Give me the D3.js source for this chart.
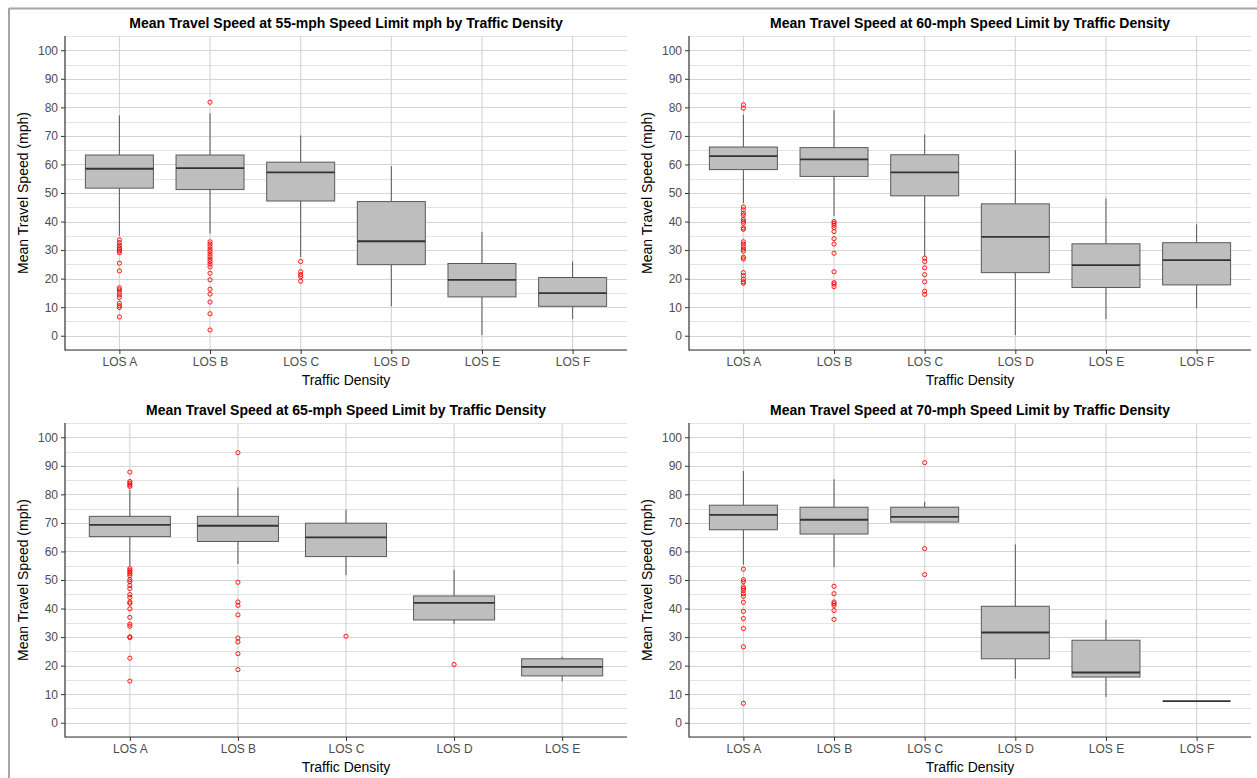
<!DOCTYPE html>
<html><head><meta charset="utf-8">
<script src="https://cdn.jsdelivr.net/npm/d3@7"></script>
<style>body{margin:0;background:#fff;} svg{display:block;font-family:"Liberation Sans",Arial,sans-serif;}</style>
</head><body>
<svg id="chart" width="1257" height="778"></svg>
<script>
// ---- Data ----
const titles = [
  "Mean Travel Speed at 55-mph Speed Limit mph by Traffic Density",
  "Mean Travel Speed at 60-mph Speed Limit by Traffic Density",
  "Mean Travel Speed at 65-mph Speed Limit by Traffic Density",
  "Mean Travel Speed at 70-mph Speed Limit by Traffic Density"
];
const categories6 = ["LOS A","LOS B","LOS C","LOS D","LOS E","LOS F"];
const categories5 = ["LOS A","LOS B","LOS C","LOS D","LOS E"];
const yTicks = [0,10,20,30,40,50,60,70,80,90,100];

// 55 mph
const p55_whiskerLow  = [35.0, 35.8, 27.5, 10.3, 0.2, 5.8];
const p55_q1          = [51.7, 51.2, 47.2, 24.9, 13.6, 10.3];
const p55_median      = [58.5, 58.7, 57.2, 33.1, 19.6, 14.9];
const p55_q3          = [63.3, 63.3, 60.8, 47.0, 25.3, 20.4];
const p55_whiskerHigh = [77.2, 77.9, 70.2, 59.4, 36.4, 26.0];
const p55_outliers = [
  [33.6,32.6,31.7,30.9,30.3,29.7,29.1,25.4,22.7,16.8,16.1,15.2,14.3,13.4,11.4,10.5,9.9,6.6],
  [81.8,32.9,32.1,31.2,30.3,29.5,28.6,27.7,26.8,26.0,25.1,24.1,21.9,19.6,16.3,14.6,11.8,7.7,2.0],
  [26.0,22.4,21.4,20.7,19.1],
  [], [], []
];
// 60 mph
const p60_whiskerLow  = [46.5, 42.0, 28.0, 0.2, 5.8, 9.6];
const p60_q1          = [58.2, 55.8, 49.0, 22.1, 16.9, 17.8];
const p60_median      = [62.9, 61.8, 57.2, 34.6, 24.7, 26.5];
const p60_q3          = [66.1, 65.9, 63.4, 46.2, 32.2, 32.6];
const p60_whiskerHigh = [77.5, 79.0, 70.5, 65.0, 48.1, 39.0];
const p60_outliers = [
  [80.9,79.7,45.1,44.1,42.9,42.2,40.8,40.1,39.4,37.8,37.3,32.9,32.1,31.2,30.3,29.6,27.5,26.9,22.1,21.0,19.8,18.9,18.4],
  [40.0,39.4,38.7,37.9,36.5,34.0,32.1,28.9,22.4,18.6,18.1,17.2],
  [27.2,26.0,23.8,21.4,18.9,15.6,14.5],
  [], [], []
];
// 65 mph
const p65_whiskerLow  = [55.0, 55.6, 51.7, 34.6, 14.5];
const p65_q1          = [65.2, 63.5, 58.2, 36.0, 16.4];
const p65_median      = [69.3, 69.0, 64.9, 42.0, 19.6];
const p65_q3          = [72.3, 72.3, 69.9, 44.4, 22.4];
const p65_whiskerHigh = [81.5, 82.4, 74.6, 53.6, 23.1];
const p65_outliers = [
  [87.8,84.5,83.9,83.3,82.8,54.0,53.4,52.8,52.2,51.5,50.1,49.4,48.1,47.0,44.9,43.9,42.3,41.8,39.9,36.9,34.5,33.8,30.1,29.8,22.6,14.6],
  [94.6,49.2,42.3,41.1,37.8,29.7,28.3,24.2,18.6],
  [30.3],
  [20.4],
  []
];
// 70 mph
const p70_whiskerLow  = [55.4, 54.5, 70.3, 15.4, 9.0, 7.6];
const p70_q1          = [67.6, 66.1, 70.3, 22.4, 16.0, 7.6];
const p70_median      = [72.8, 71.1, 72.1, 31.6, 17.6, 7.6];
const p70_q3          = [76.2, 75.5, 75.5, 40.8, 28.9, 7.6];
const p70_whiskerHigh = [88.2, 85.3, 77.4, 62.5, 36.1, 7.6];
const p70_outliers = [
  [53.8,50.1,49.4,47.6,47.0,46.3,45.2,44.3,42.2,39.0,36.5,33.0,26.6,6.8],
  [47.8,45.2,42.3,41.7,41.1,39.3,36.2],
  [91.1,61.0,51.9],
  [], [], []
];

function build(cats, lo, q1, med, q3, hi, outs){
  return cats.map((c,i)=>({cat:c, lo:lo[i], q1:q1[i], med:med[i], q3:q3[i], hi:hi[i], outs:outs[i]}));
}
const panels = [
  {title:titles[0], cats:categories6, data:build(categories6,p55_whiskerLow,p55_q1,p55_median,p55_q3,p55_whiskerHigh,p55_outliers), x0:65, x1:627, y0:36, y1:350},
  {title:titles[1], cats:categories6, data:build(categories6,p60_whiskerLow,p60_q1,p60_median,p60_q3,p60_whiskerHigh,p60_outliers), x0:689, x1:1251, y0:36, y1:350},
  {title:titles[2], cats:categories5, data:build(categories5,p65_whiskerLow,p65_q1,p65_median,p65_q3,p65_whiskerHigh,p65_outliers), x0:65, x1:627, y0:423, y1:737},
  {title:titles[3], cats:categories6, data:build(categories6,p70_whiskerLow,p70_q1,p70_median,p70_q3,p70_whiskerHigh,p70_outliers), x0:689, x1:1251, y0:423, y1:737}
];

const svg = d3.select("#chart");
// outer frame (top & left)
svg.append("line").attr("x1",9).attr("x2",1257).attr("y1",8.5).attr("y2",8.5).attr("stroke","#a6a6a6").attr("stroke-width",2);
svg.append("line").attr("x1",9).attr("x2",9).attr("y1",8).attr("y2",778).attr("stroke","#a6a6a6").attr("stroke-width",2);

panels.forEach(p=>{
  const g = svg.append("g");
  const x = d3.scalePoint().domain(p.cats).range([p.x0,p.x1]).padding(0.6);
  const y = d3.scaleLinear().domain([-5,105]).range([p.y1,p.y0]);
  const step = x.step();
  const bw = step*0.75;

  // grid
  const minor = d3.range(-5,106,10);
  g.selectAll(".gmin").data(minor).join("line")
    .attr("x1",p.x0).attr("x2",p.x1).attr("y1",d=>Math.round(y(d))+0.5).attr("y2",d=>Math.round(y(d))+0.5)
    .attr("stroke","#e3e3e3").attr("stroke-width",1);
  g.selectAll(".gmaj").data(yTicks).join("line")
    .attr("x1",p.x0).attr("x2",p.x1).attr("y1",d=>Math.round(y(d))+0.5).attr("y2",d=>Math.round(y(d))+0.5)
    .attr("stroke","#d4d4d4").attr("stroke-width",1.1);
  g.selectAll(".gv").data(p.cats).join("line")
    .attr("x1",d=>x(d)).attr("x2",d=>x(d)).attr("y1",p.y0).attr("y2",p.y1)
    .attr("stroke","#d4d4d4").attr("stroke-width",1.1);

  // boxes
  const b = g.selectAll(".box").data(p.data).join("g");
  b.append("line").attr("x1",d=>x(d.cat)).attr("x2",d=>x(d.cat)).attr("y1",d=>y(d.hi)).attr("y2",d=>y(d.q3))
    .attr("stroke","#5a5a5a").attr("stroke-width",1);
  b.append("line").attr("x1",d=>x(d.cat)).attr("x2",d=>x(d.cat)).attr("y1",d=>y(d.q1)).attr("y2",d=>y(d.lo))
    .attr("stroke","#5a5a5a").attr("stroke-width",1);
  b.append("rect").attr("x",d=>x(d.cat)-bw/2).attr("width",bw)
    .attr("y",d=>y(d.q3)).attr("height",d=>Math.max(0,y(d.q1)-y(d.q3)))
    .attr("fill","#bebebe").attr("stroke","#5a5a5a").attr("stroke-width",1);
  b.append("line").attr("x1",d=>x(d.cat)-bw/2).attr("x2",d=>x(d.cat)+bw/2).attr("y1",d=>y(d.med)).attr("y2",d=>y(d.med))
    .attr("stroke","#333").attr("stroke-width",1.8);
  b.each(function(d){
    d3.select(this).selectAll("circle").data(d.outs).join("circle")
      .attr("cx",x(d.cat)).attr("cy",v=>y(v)).attr("r",2.1)
      .attr("fill","none").attr("stroke","#ff0000").attr("stroke-width",0.9);
  });

  // axes
  const ya = g.append("g").attr("transform",`translate(${p.x0},0)`)
    .call(d3.axisLeft(y).tickValues(yTicks).tickSize(4).tickPadding(3));
  const xa = g.append("g").attr("transform",`translate(0,${p.y1})`)
    .call(d3.axisBottom(x).tickSize(4).tickPadding(3));
  [ya,xa].forEach(a=>{
    a.select(".domain").remove();
    a.selectAll(".tick line").attr("stroke","#333");
    a.selectAll("text").attr("fill","#4d4d4d").style("font-size","12px").style("font-family","'Liberation Sans',Arial,sans-serif");
  });
  g.append("line").attr("x1",p.x0).attr("x2",p.x0).attr("y1",p.y0).attr("y2",p.y1+0.5).attr("stroke","#333").attr("stroke-width",1.2);
  g.append("line").attr("x1",p.x0).attr("x2",p.x1).attr("y1",p.y1).attr("y2",p.y1).attr("stroke","#333").attr("stroke-width",1.2);

  // titles
  g.append("text").attr("x",(p.x0+p.x1)/2).attr("y",p.y0-8).attr("text-anchor","middle")
    .style("font-weight","bold").style("font-size","14px").attr("fill","#000").text(p.title);
  g.append("text").attr("x",(p.x0+p.x1)/2).attr("y",p.y1+35).attr("text-anchor","middle")
    .style("font-size","14px").attr("fill","#000").text("Traffic Density");
  g.append("text").attr("transform",`translate(${p.x0-37},${(p.y0+p.y1)/2}) rotate(-90)`).attr("text-anchor","middle")
    .style("font-size","14px").attr("fill","#000").text("Mean Travel Speed (mph)");
});
</script>
</body></html>
